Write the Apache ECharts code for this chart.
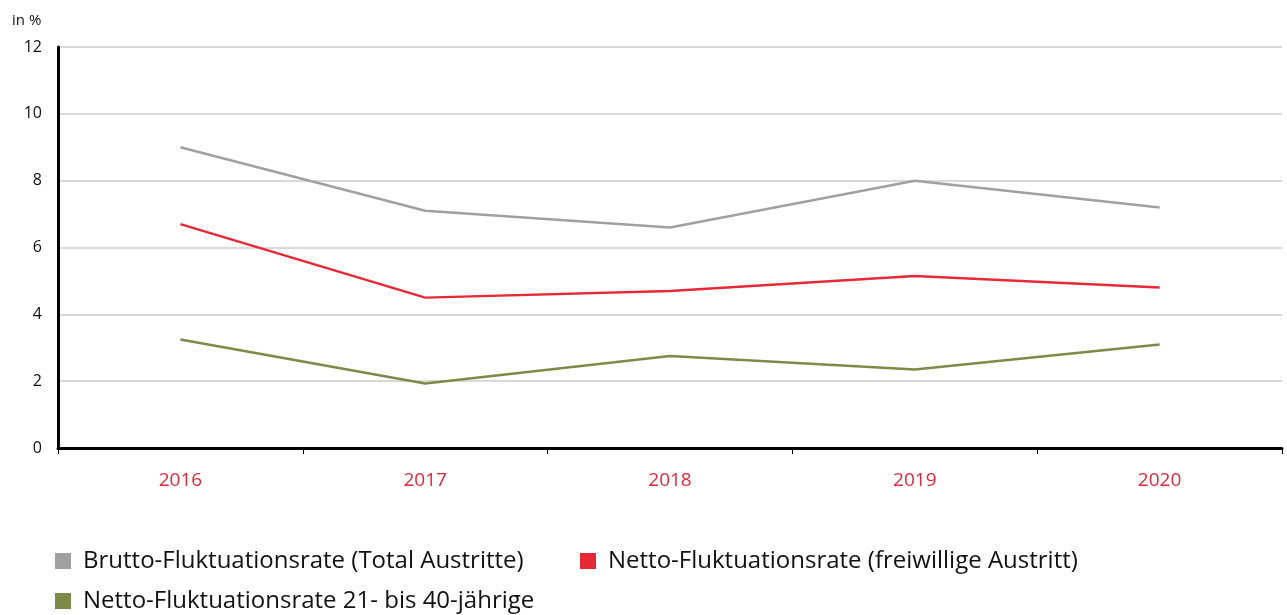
<!DOCTYPE html>
<html>
<head>
<meta charset="utf-8">
<script src="https://cdn.jsdelivr.net/npm/echarts@6/dist/echarts.min.js"></script>
<style>html,body{margin:0;padding:0;background:#fff}#c{width:1287px;height:615px}</style>
</head>
<body>
<div id="c"></div>
<script>
const years = ['2016', '2017', '2018', '2019', '2020'];
const brutto = [9.0, 7.1, 6.6, 8.0, 7.2];
const nettoFrei = [6.7, 4.5, 4.7, 5.15, 4.8];
const netto2140 = [3.25, 1.93, 2.75, 2.35, 3.1];
const seriesNames = ['Brutto-Fluktuationsrate (Total Austritte)', 'Netto-Fluktuationsrate (freiwillige Austritt)', 'Netto-Fluktuationsrate 21- bis 40-jährige'];
const colors = ['#a0a0a0', '#e52a36', '#7b8b47'];
const yTicks = [0, 12, 2];

const font = '"Open Sans", Lato, sans-serif';
const chart = echarts.init(document.getElementById('c'));
const legendBase = {
  icon: 'rect', itemWidth: 16, itemHeight: 16, itemGap: 40,
  textStyle: { fontSize: 24, color: '#111', fontFamily: font, padding: [0, 0, 0, 7] },
  padding: 0
};
chart.setOption({
  animation: false,
  color: colors,
  title: { text: 'in %', left: 7, top: 8, textStyle: { fontSize: 15, fontWeight: 'normal', color: '#111', fontFamily: font } },
  legend: [
    Object.assign({}, legendBase, { data: [seriesNames[0]], left: 55, top: 549 }),
    Object.assign({}, legendBase, { data: [seriesNames[1]], left: 580, top: 549 }),
    Object.assign({}, legendBase, { data: [seriesNames[2]], left: 55, top: 589 })
  ],
  grid: { left: 58, right: 5, top: 47, bottom: 167, containLabel: false },
  xAxis: {
    type: 'category', data: years, boundaryGap: true,
    axisLine: { lineStyle: { color: '#000', width: 3 } },
    axisTick: { show: true, length: 6, lineStyle: { color: '#000', width: 1 } },
    axisLabel: { color: '#e0283a', fontSize: 19, margin: 23, fontFamily: font },
    splitLine: { show: false }
  },
  yAxis: {
    type: 'value', min: yTicks[0], max: yTicks[1], interval: yTicks[2],
    axisLine: { show: true, lineStyle: { color: '#000', width: 3 } },
    axisTick: { show: false },
    axisLabel: { color: '#111', fontSize: 16, margin: 16, fontFamily: font },
    splitLine: { lineStyle: { color: '#cccccc', width: 1.5 } }
  },
  series: [
    { name: seriesNames[0], type: 'line', data: brutto, symbol: 'none', lineStyle: { width: 2.5, color: colors[0] }, z: 3 },
    { name: seriesNames[1], type: 'line', data: nettoFrei, symbol: 'none', lineStyle: { width: 2.5, color: colors[1] }, z: 3 },
    { name: seriesNames[2], type: 'line', data: netto2140, symbol: 'none', lineStyle: { width: 2.5, color: colors[2] }, z: 3 }
  ]
});
</script>
</body>
</html>
